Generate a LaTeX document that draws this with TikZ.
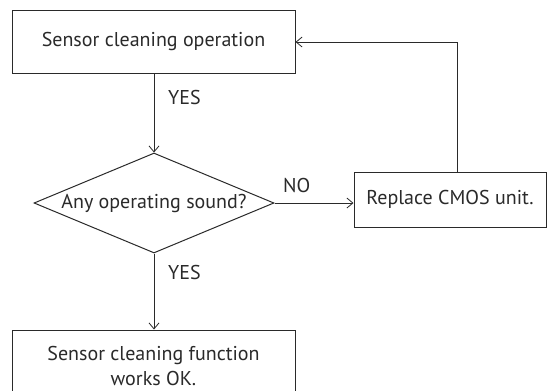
\documentclass[tikz,border=0pt]{standalone}
\usepackage{fontspec}
\setmainfont{PT Sans}
\usetikzlibrary{shapes.geometric,arrows.meta}
\definecolor{ink}{HTML}{2A2A2A}
\begin{document}
\begin{tikzpicture}[x=1pt,y=-1pt,
  every node/.style={font=\fontsize{20}{25}\selectfont, text=ink},
  box/.style={draw=ink, line width=1pt, rectangle, inner sep=0pt, align=center},
  decision/.style={draw=ink, line width=1pt, diamond, aspect=2.4, inner sep=0pt, minimum width=240pt, minimum height=100pt},
  conn/.style={draw=ink, line width=1pt, -{Straight Barb[length=6pt,width=10pt,line width=0.8pt]}},
  lbl/.style={inner sep=0pt, anchor=west}]
\useasboundingbox (0,0) rectangle (547,391);
\fill[white] (0,0) rectangle (547,391);
\node[box, minimum width=283pt, minimum height=63pt] (op) at (153.5,41.5) {Sensor cleaning operation};
\node[decision] (dec) at (154,203) {Any operating sound?};
\node[box, minimum width=192pt, minimum height=55pt] (rep) at (450,199.5) {Replace CMOS unit.};
\node[box, minimum width=283pt, minimum height=71pt] (ok) at (153.5,365.5) {Sensor cleaning function\\works OK.};
\coordinate (corner) at (457,42);
\draw[conn] (op.south -| dec.north) -- (dec.north);
\draw[conn] (dec.east) -- (rep.west |- dec.east);
\draw[conn] (dec.south) -- (ok.north -| dec.south);
\draw[conn] (rep.north -| corner) -- (corner) -- (op.east |- corner);
\node[lbl] (yes1) at (168,97) {YES};
\node[lbl] (no) at (283,185) {NO};
\node[lbl] (yes2) at (168,272) {YES};
\end{tikzpicture}
\end{document}
